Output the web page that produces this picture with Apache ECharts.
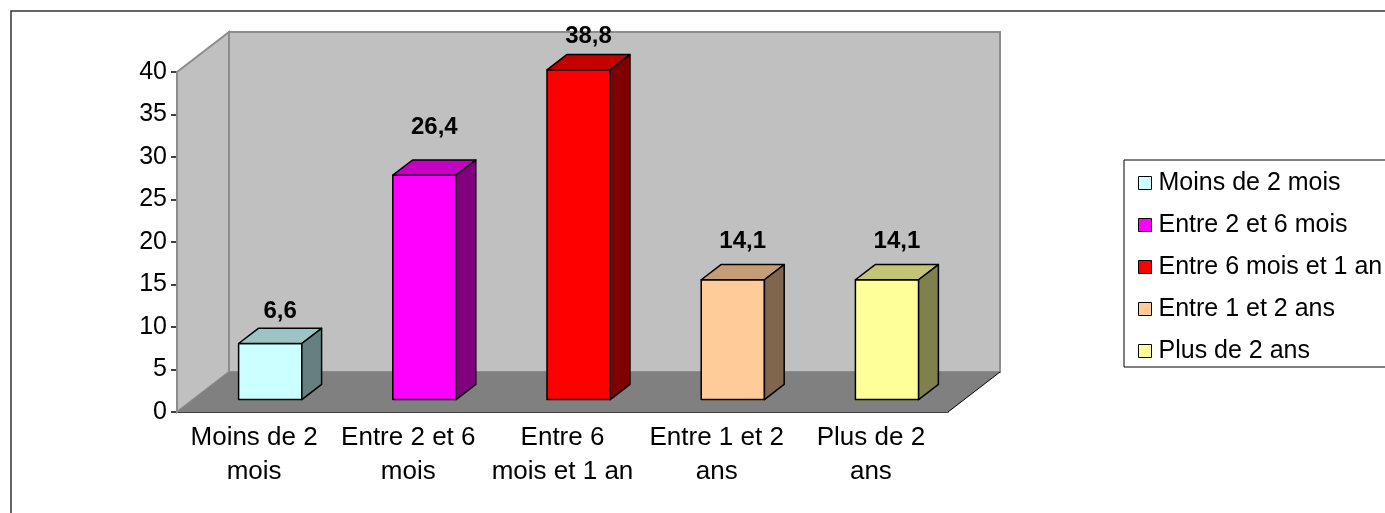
<!DOCTYPE html>
<html>
<head>
<meta charset="utf-8">
<script src="https://cdn.jsdelivr.net/npm/echarts@6/dist/echarts.min.js"></script>
<style>
  html, body { margin: 0; padding: 0; background: #fff; }
  #chart { width: 1385px; height: 513px; }
</style>
</head>
<body>
<div id="chart"></div>
<script>
// data
const categories = ['Moins de 2\nmois', 'Entre 2 et 6\nmois', 'Entre 6\nmois et 1 an', 'Entre 1 et 2\nans', 'Plus de 2\nans'];
const legendNames = ['Moins de 2 mois', 'Entre 2 et 6 mois', 'Entre 6 mois et 1 an', 'Entre 1 et 2 ans', 'Plus de 2 ans'];
const values = [6.6, 26.4, 38.8, 14.1, 14.1];
const yMin = 0, yMax = 40, yStep = 5;

// styles
const palette = ['#CCFFFF', '#FF00FF', '#FF0000', '#FFCC99', '#FFFF99'];
const FONT = 'Arial, "Liberation Sans", sans-serif';
const DEPTH_X = 52, DEPTH_Y = 40;   // 3d wall depth in px

function shade(hex, k) {
  const n = parseInt(hex.slice(1), 16);
  const r = Math.round(((n >> 16) & 255) * k);
  const g = Math.round(((n >> 8) & 255) * k);
  const b = Math.round((n & 255) * k);
  return 'rgb(' + r + ',' + g + ',' + b + ')';
}

// back wall, side wall and floor
function renderWalls(params, api) {
  const cs = params.coordSys;
  const l = cs.x, r = cs.x + cs.width, t = cs.y, b = cs.y + cs.height;
  const dx = DEPTH_X, dy = DEPTH_Y;
  return {
    type: 'group',
    children: [
      { type: 'polygon', shape: { points: [[l + dx, t - dy], [r + dx, t - dy], [r + dx, b - dy], [l + dx, b - dy]] },
        style: { fill: '#C0C0C0', stroke: '#8c8c8c', lineWidth: 2 } },
      { type: 'polygon', shape: { points: [[l, t], [l + dx, t - dy], [l + dx, b - dy], [l, b]] },
        style: { fill: '#C0C0C0', stroke: '#8c8c8c', lineWidth: 2 } },
      { type: 'polygon', shape: { points: [[l, b], [l + dx, b - dy], [r + dx, b - dy], [r, b]] },
        style: { fill: '#808080' } },
      { type: 'line', shape: { x1: r, y1: b, x2: r + dx, y2: b - dy },
        style: { stroke: '#000', lineWidth: 1 } }
    ]
  };
}

function makeBarRenderer(color) {
  return function (params, api) {
    const cat = api.value(0), v = api.value(1);
    const base = api.coord([cat, 0]);
    const top = api.coord([cat, v]);
    const bw = api.size([1, 0])[0] * 0.41;
    const fx = DEPTH_X * 0.31, fy = DEPTH_Y * 0.31;
    const bx = DEPTH_X * 0.38, by = DEPTH_Y * 0.38;
    const x0 = base[0] - bw / 2 + fx, x1 = x0 + bw;
    const y0 = base[1] - fy, y1 = top[1] - fy;
    const edge = { stroke: '#000', lineWidth: 1.5, lineJoin: 'round' };
    // label lifts more for taller bars, but stays inside the chart
    const labelY = Math.max(36, y1 - by - (11 + 0.83 * v));
    return {
      type: 'group',
      children: [
        { type: 'polygon', shape: { points: [[x0, y1], [x1, y1], [x1, y0], [x0, y0]] },
          style: Object.assign({ fill: color }, edge) },
        { type: 'polygon', shape: { points: [[x0, y1], [x0 + bx, y1 - by], [x1 + bx, y1 - by], [x1, y1]] },
          style: Object.assign({ fill: shade(color, 0.77) }, edge) },
        { type: 'polygon', shape: { points: [[x1, y1], [x1 + bx, y1 - by], [x1 + bx, y0 - by], [x1, y0]] },
          style: Object.assign({ fill: shade(color, 0.5) }, edge) },
        { type: 'text', style: {
            text: String(v).replace('.', ','),
            x: (x0 + x1 + bx) / 2, y: labelY,
            align: 'center', verticalAlign: 'middle',
            font: 'bold 24px ' + FONT, fill: '#000' } }
      ]
    };
  };
}

const series = [{
  type: 'custom',
  silent: true,
  renderItem: renderWalls,
  data: [[0, 0]],
  z: 1
}];
values.forEach(function (v, i) {
  series.push({
    name: legendNames[i],
    type: 'custom',
    renderItem: makeBarRenderer(palette[i]),
    itemStyle: { color: palette[i] },
    data: [[i, v]],
    z: 2
  });
});

const chart = echarts.init(document.getElementById('chart'));
chart.setOption({
  animation: false,
  backgroundColor: '#fff',
  textStyle: { fontFamily: FONT },
  grid: { left: 177, right: 437, top: 72, bottom: 101 },
  xAxis: {
    type: 'category',
    data: categories,
    axisLine: { lineStyle: { color: '#000', width: 1.5 } },
    axisTick: { length: 6, lineStyle: { color: '#000', width: 1.5 } },
    axisLabel: { color: '#000', fontSize: 26, lineHeight: 34, margin: 9, interval: 0 }
  },
  yAxis: {
    type: 'value',
    min: yMin, max: yMax, interval: yStep,
    axisLine: { show: true, lineStyle: { color: '#000', width: 1.5 } },
    axisTick: { show: true, length: 6, lineStyle: { color: '#000', width: 1.5 } },
    axisLabel: { color: '#000', fontSize: 25, margin: 10 },
    splitLine: { show: false }
  },
  legend: {
    data: legendNames,
    orient: 'vertical',
    left: 1133, top: 165,
    icon: 'rect',
    itemWidth: 13, itemHeight: 13,
    itemGap: 16,
    itemStyle: { borderColor: '#000', borderWidth: 1 },
    textStyle: { color: '#000', fontSize: 25, lineHeight: 26, padding: [0, 0, 0, 2] },
    selectedMode: false
  },
  graphic: [
    { type: 'rect', x: 11, y: 11, shape: { x: 0, y: 0, width: 1400, height: 600 },
      style: { fill: null, stroke: '#333', lineWidth: 1.5 } },
    { type: 'rect', x: 1124, y: 160, shape: { x: 0, y: 0, width: 300, height: 207 },
      style: { fill: null, stroke: '#000', lineWidth: 1 } }
  ],
  series: series
});
</script>
</body>
</html>
